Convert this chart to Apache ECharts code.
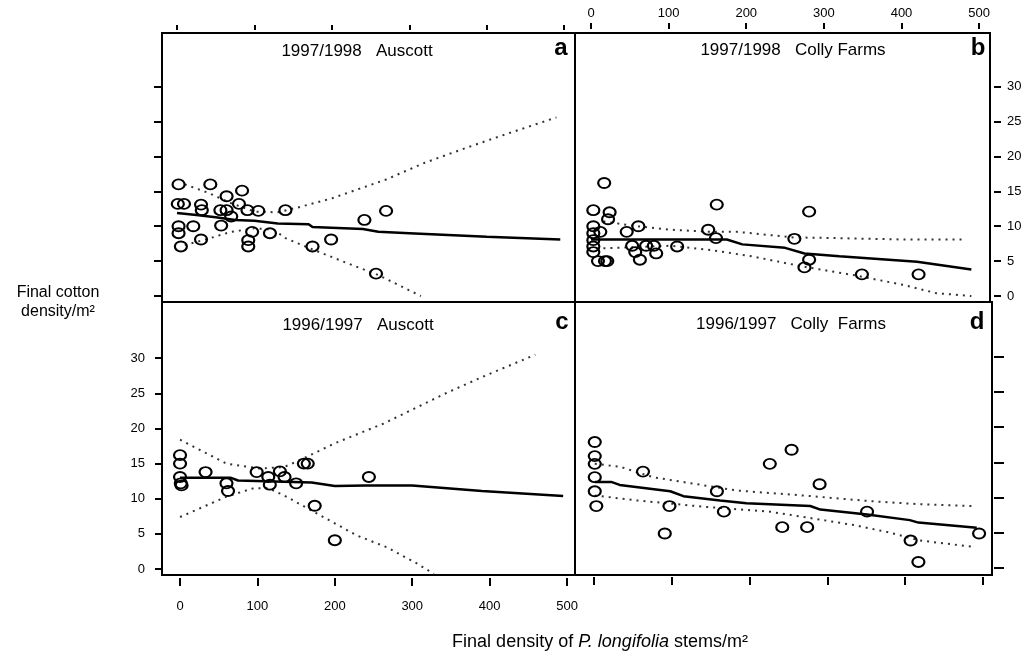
<!DOCTYPE html>
<html>
<head>
<meta charset="utf-8">
<script src="https://cdn.jsdelivr.net/npm/echarts@6/dist/echarts.min.js"></script>
<style>
html,body{margin:0;padding:0;background:#fff;}
#chart{width:1028px;height:659px;}
</style>
</head>
<body>
<div id="chart"></div>
<script>
// ---- tick labels ----
const xTicks = [0, 100, 200, 300, 400, 500];
const yTicks = [0, 5, 10, 15, 20, 25, 30];

// ---- panel titles ----
const panelTitles = ['1997/1998   Auscott', '1997/1998   Colly Farms', '1996/1997   Auscott', '1996/1997   Colly  Farms'];
const panelLetters = ['a', 'b', 'c', 'd'];

// ---- panel a: 1997/1998 Auscott ----
const aPoints = [[2,16.0],[43,16.0],[1,13.2],[9,13.2],[31,13.1],[32,12.3],[56,12.3],[64,12.3],[64,14.3],[84,15.1],[80,13.2],[91,12.3],[105,12.2],[140,12.3],[70,11.4],[2,10.0],[2,9.0],[21,10.0],[31,8.1],[5,7.1],[57,10.1],[97,9.2],[92,8.0],[92,7.1],[120,9.0],[175,7.1],[199,8.1],[242,10.9],[270,12.2],[257,3.2]];
const aFit = [[0,11.9],[25,11.6],[50,11.3],[75,10.9],[100,10.8],[130,10.4],[170,10.3],[175,9.9],[240,9.6],[260,9.2],[300,9.0],[400,8.5],[495,8.1]];
const aUpper = [[10,16.0],[40,14.8],[70,13.3],[100,12.1],[130,12.0],[160,12.8],[200,14.0],[270,16.7],[320,19.1],[375,21.3],[425,23.2],[490,25.6]];
const aLower = [[10,7.3],[40,8.2],[70,9.2],[100,9.7],[125,9.5],[140,8.3],[170,6.9],[220,4.7],[260,3.0],[315,0.0]];

// ---- panel b: 1997/1998 Colly Farms ----
const bPoints = [[17,16.2],[3,12.3],[24,12.0],[22,11.0],[3,10.0],[3,9.0],[12,9.2],[3,8.0],[3,7.1],[3,6.3],[9,5.0],[18,5.0],[21,5.0],[46,9.2],[61,10.0],[53,7.2],[57,6.3],[63,5.2],[71,7.2],[81,7.2],[84,6.1],[111,7.1],[162,13.1],[151,9.5],[161,8.3],[262,8.2],[281,12.1],[281,5.2],[275,4.1],[349,3.1],[422,3.1]];
const bFit = [[0,8.1],[175,8.1],[195,7.4],[250,6.9],[275,6.1],[320,5.7],[420,4.9],[490,3.8]];
const bUpper = [[16,10.7],[59,10.0],[102,9.5],[154,9.2],[188,9.2],[261,8.4],[316,8.3],[402,8.1],[482,8.1]];
const bLower = [[16,6.85],[102,7.2],[154,6.6],[209,5.65],[274,4.2],[338,3.0],[402,1.6],[445,0.4],[490,0.0]];

// ---- panel c: 1996/1997 Auscott ----
const cPoints = [[0,16.2],[0,15.0],[0,13.1],[1,12.2],[2,11.9],[33,13.8],[60,12.2],[62,11.1],[99,13.8],[114,13.1],[116,12.0],[129,13.9],[135,13.1],[150,12.2],[160,15.0],[165,15.0],[174,9.0],[200,4.1],[244,13.1]];
const cFit = [[0,13.0],[65,13.0],[75,12.6],[170,12.3],[200,11.8],[240,11.9],[300,11.9],[390,11.1],[495,10.4]];
const cUpper = [[0,18.4],[60,15.0],[103,14.3],[134,14.5],[155,15.5],[200,17.9],[263,20.7],[345,25.1],[392,27.4],[459,30.5]];
const cLower = [[0,7.4],[60,10.3],[95,11.5],[114,11.5],[134,10.5],[177,7.9],[228,4.8],[267,3.1],[306,0.8],[328,-0.7]];

// ---- panel d: 1996/1997 Colly Farms ----
const dPoints = [[1,17.9],[1,15.9],[1,14.8],[1,12.9],[1,10.9],[3,8.8],[63,13.7],[97,8.8],[91,4.9],[158,10.9],[167,8.0],[226,14.8],[254,16.8],[242,5.8],[274,5.8],[290,11.9],[351,8.0],[407,3.9],[417,0.85],[495,4.9]];
const dFit = [[1,12.2],[23,12.2],[33,11.8],[98,10.9],[115,10.2],[162,9.6],[196,9.2],[278,8.8],[291,8.3],[351,7.6],[406,6.8],[417,6.45],[492,5.7]];
const dUpper = [[1,14.8],[33,14.4],[76,12.9],[141,11.75],[184,11.0],[269,10.3],[355,9.5],[419,9.05],[488,8.8]];
const dLower = [[1,10.3],[55,9.6],[141,8.7],[226,8.0],[269,7.25],[334,6.1],[377,5.1],[419,3.9],[488,3.0]];

const panels = [
  {points:aPoints, fit:aFit, upper:aUpper, lower:aLower},
  {points:bPoints, fit:bFit, upper:bUpper, lower:bLower},
  {points:cPoints, fit:cFit, upper:cUpper, lower:cLower},
  {points:dPoints, fit:dFit, upper:dUpper, lower:dLower}
];

const FONT = '"Liberation Sans", Arial, sans-serif';

const grids = [
  {left:162, top:33, width:413, height:269},
  {left:575, top:33, width:415, height:269},
  {left:162, top:302, width:413, height:273},
  {left:575, top:302, width:417, height:273}
].map(g => Object.assign({show:true, borderColor:'#000', borderWidth:2, backgroundColor:'transparent'}, g));

function xAxis(i, min, max, position, showLabels, offset, tickLen) {
  return {
    type:'value', gridIndex:i, min:min, max:max, position:position, offset:offset,
    splitLine:{show:false}, axisLine:{show:false, onZero:false},
    axisTick:{show:true, length:tickLen, inside:false, customValues:xTicks, lineStyle:{color:'#000', width:2}},
    axisLabel:{show:showLabels, customValues:xTicks, color:'#000', fontSize:13, fontFamily:FONT, margin:position==='top'?9:22}
  };
}
function yAxis(i, min, max, position, showLabels, offset, tickLen) {
  return {
    type:'value', gridIndex:i, min:min, max:max, position:position, offset:offset,
    splitLine:{show:false}, axisLine:{show:false, onZero:false},
    axisTick:{show:true, length:tickLen, inside:false, customValues:yTicks, lineStyle:{color:'#000', width:2}},
    axisLabel:{show:showLabels, customValues:yTicks, color:'#000', fontSize:13, fontFamily:FONT, margin:position==='left'?17:13}
  };
}

const xAxes = [
  xAxis(0, -19.4, 514, 'top', false, 3, 5),
  xAxis(1, -20.6, 514, 'top', true, 4, 6),
  xAxis(2, -23.3, 510.3, 'bottom', true, 3, 8),
  xAxis(3, -24.4, 511.6, 'bottom', false, 2, 8)
];
const yAxes = [
  yAxis(0, -0.86, 37.7, 'left', false, 0, 8),
  yAxis(1, -0.86, 37.7, 'right', true, 4, 7),
  yAxis(2, -0.85, 38.0, 'left', true, 0, 7),
  yAxis(3, -1.0, 37.8, 'right', false, 2, 10)
];

const series = [];
panels.forEach((p, i) => {
  const ciStyle = {color:'#333', width:2, type:[2,5]};
  series.push({type:'line', xAxisIndex:i, yAxisIndex:i, data:p.upper, showSymbol:false, symbol:'none', lineStyle:ciStyle, z:2, silent:true});
  series.push({type:'line', xAxisIndex:i, yAxisIndex:i, data:p.lower, showSymbol:false, symbol:'none', lineStyle:ciStyle, z:2, silent:true, clip:true});
  series.push({type:'line', xAxisIndex:i, yAxisIndex:i, data:p.fit, showSymbol:false, symbol:'none', lineStyle:{color:'#000', width:2.5}, z:3, silent:true});
  series.push({type:'scatter', xAxisIndex:i, yAxisIndex:i, data:p.points, symbol:'circle', symbolSize:[12,10],
    itemStyle:{color:'rgba(255,255,255,0)', borderColor:'#000', borderWidth:2, opacity:1}, z:4, silent:true});
});

const titlePos = [[357,51],[793,50],[358,325],[791,324]];
const letterPos = [[561,48],[978,48],[562,322],[977,322]];
const graphics = [];
panelTitles.forEach((t, i) => {
  graphics.push({type:'text', x:titlePos[i][0], y:titlePos[i][1], style:{text:t, font:'17px ' + FONT, fill:'#000', textAlign:'center', textVerticalAlign:'middle'}});
  graphics.push({type:'text', x:letterPos[i][0], y:letterPos[i][1], style:{text:panelLetters[i], font:'bold 24px ' + FONT, fill:'#000', textAlign:'center', textVerticalAlign:'middle'}});
});
graphics.push({type:'text', x:58, y:293, style:{text:'Final cotton', font:'16px ' + FONT, fill:'#000', textAlign:'center', textVerticalAlign:'middle'}});
graphics.push({type:'text', x:58, y:312, style:{text:'density/m²', font:'16px ' + FONT, fill:'#000', textAlign:'center', textVerticalAlign:'middle'}});
graphics.push({type:'text', x:600, y:642, style:{
  text:'{n|Final density of }{i|P. longifolia}{n| stems/m²}',
  textAlign:'center', textVerticalAlign:'middle',
  rich:{n:{font:'18px ' + FONT, fill:'#000'}, i:{font:'italic 18px ' + FONT, fill:'#000'}}
}});

const chart = echarts.init(document.getElementById('chart'), null, {renderer:'canvas'});
chart.setOption({
  animation:false,
  backgroundColor:'#fff',
  grid:grids,
  xAxis:xAxes,
  yAxis:yAxes,
  series:series,
  graphic:graphics
});
</script>
</body>
</html>
